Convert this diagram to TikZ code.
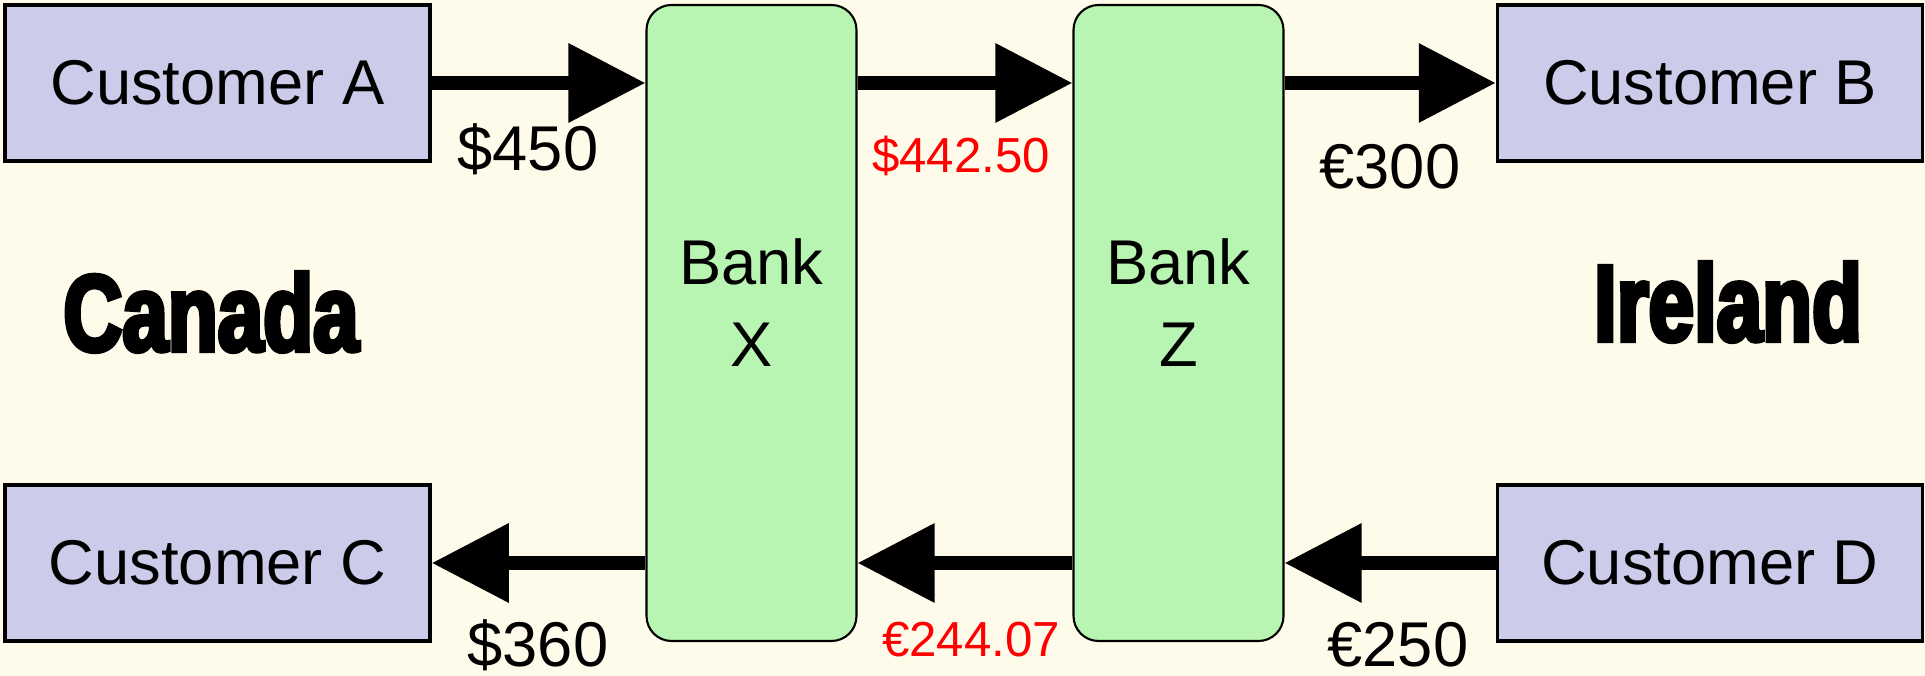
\documentclass[tikz,border=0pt]{standalone}
\usepackage{fontspec}
\setmainfont{Liberation Sans}
\newfontfamily\heavyfont{Liberation Sans Bold}[FakeStretch=0.75,FakeBold=4]
\usetikzlibrary{arrows.meta}
\definecolor{paper}{RGB}{255,251,234}
\definecolor{lavender}{RGB}{204,204,234}
\definecolor{mint}{RGB}{185,245,178}

\begin{document}
\begin{tikzpicture}[
  customer/.style={draw,line width=1pt,fill=lavender,minimum width=4.25cm,minimum height=1.56cm,inner sep=0pt,font=\fontsize{18}{22}\selectfont},
  bank/.style={draw,line width=0.6pt,fill=mint,rounded corners=0.25cm,minimum width=2.1cm,minimum height=6.36cm},
  banktext/.style={align=center,font=\fontsize{18}{23.3}\selectfont},
  flow/.style={line width=3.8pt,-{Triangle[length=7.7mm,width=7.6mm]}},
  amount/.style={font=\fontsize{18}{22}\selectfont},
  rate/.style={text=red,font=\fontsize{14}{17}\selectfont},
  country/.style={font=\heavyfont\fontsize{31}{36}\selectfont}
]
\fill[paper] (0,0) rectangle (19.25,6.76);
\useasboundingbox (0,0) rectangle (19.25,6.76);

\node[customer] (custA) at (2.175,5.93) {Customer A};
\node[customer] (custC) at (2.175,1.13) {Customer C};
\node[customer] (custB) at (17.10,5.93) {Customer B};
\node[customer] (custD) at (17.10,1.13) {Customer D};

\node[bank] (bankX) at (7.515,3.53) {};
\node[bank] (bankZ) at (11.785,3.53) {};
\node[banktext] (bankXtext) at ([yshift=0.2cm]bankX.center) {Bank\\X};
\node[banktext] (bankZtext) at ([yshift=0.2cm]bankZ.center) {Bank\\Z};

\node[country] (canada) at (2.11,3.64) {Canada};
\node[country] (ireland) at (17.28,3.74) {Ireland};

\draw[flow] (custA.east) -- (custA.east -| bankX.west);
\draw[flow] (bankX.east |- custA.east) -- (bankZ.west |- custA.east);
\draw[flow] (bankZ.east |- custB.west) -- (custB.west);
\draw[flow] (custD.west) -- (custD.west -| bankZ.east);
\draw[flow] (bankZ.west |- custD.west) -- (bankX.east |- custD.west);
\draw[flow] (bankX.west |- custC.east) -- (custC.east);

\node[amount] (amt450) at (5.28,5.27) {\$450};
\node[rate] (amt44250) at (9.61,5.20) {\$442.50};
\node[amount] (amt300) at (13.90,5.09) {€300};
\node[amount] (amt360) at (5.38,0.31) {\$360};
\node[rate] (amt24407) at (9.71,0.36) {€244.07};
\node[amount] (amt250) at (13.98,0.31) {€250};
\end{tikzpicture}
\end{document}
